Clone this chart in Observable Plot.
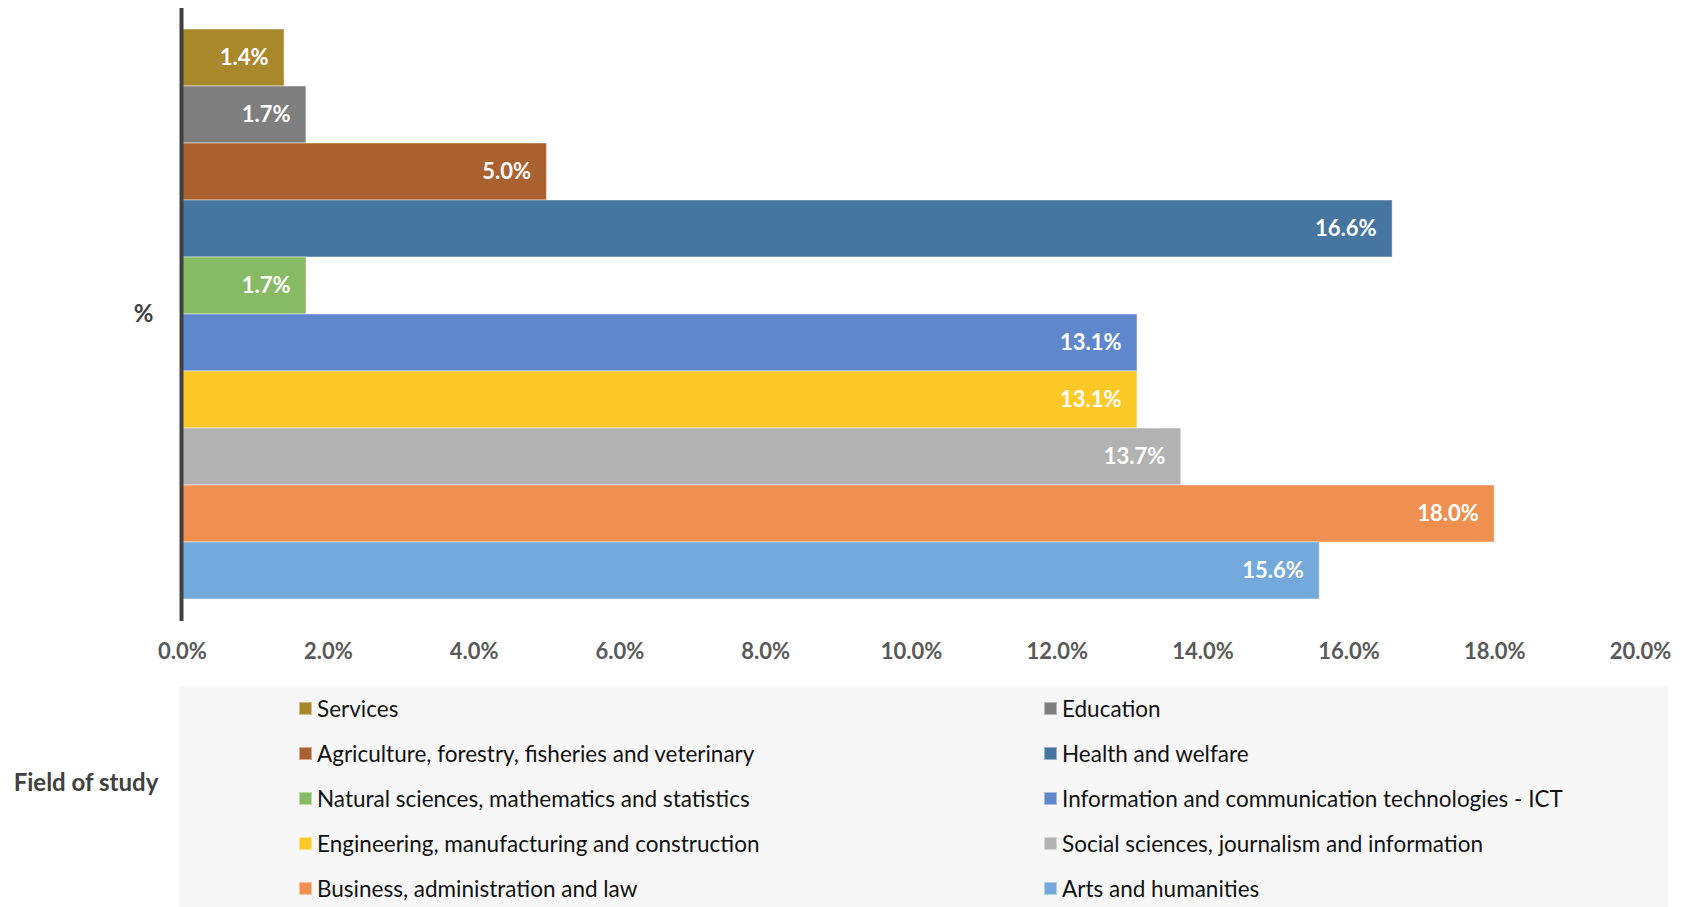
<!DOCTYPE html>
<html>
<head>
<meta charset="utf-8">
<script src="https://cdn.jsdelivr.net/npm/d3@7"></script>
<script src="https://cdn.jsdelivr.net/npm/@observablehq/plot@0.6"></script>
<style>
  html, body { margin: 0; padding: 0; background: #ffffff; }
  body { width: 1694px; height: 907px; overflow: hidden; font-family: Lato, "Open Sans", sans-serif; }
  #chart { position: relative; width: 1694px; height: 686px; }
  #legendWrap { position: relative; width: 1694px; height: 221px; }
  #fieldLabel { position: absolute; left: 0; width: 172px; top: 78px; height: 34px; display: flex; align-items: center; justify-content: center; font-weight: bold; font-size: 24px; color: #404040; }
  #legendBox { position: absolute; left: 179px; top: 0; width: 1489px; height: 221px; background: #f7f7f7; }
  .item { position: absolute; display: flex; align-items: center; height: 30px; font-size: 22.5px; color: #111111; white-space: nowrap; }
  .sw { width: 13px; height: 13px; margin-right: 5px; box-sizing: border-box; border: 1px solid rgba(255,255,255,0.45); }
</style>
</head>
<body>
<div id="chart"></div>
<div id="legendWrap">
  <div id="fieldLabel">Field of study</div>
  <div id="legendBox"></div>
</div>
<script>
const categories = [
  "Services",
  "Education",
  "Agriculture, forestry, fisheries and veterinary",
  "Health and welfare",
  "Natural sciences, mathematics and statistics",
  "Information and communication technologies - ICT",
  "Engineering, manufacturing and construction",
  "Social sciences, journalism and information",
  "Business, administration and law",
  "Arts and humanities"
];
const values = [1.4, 1.7, 5.0, 16.6, 1.7, 13.1, 13.1, 13.7, 18.0, 15.6];
const colors = ["#A9872B", "#7F7F7F", "#A9612F", "#4675A0", "#86BA64", "#5F87CC", "#FDC926", "#B2B2B2", "#EF8F50", "#73A9DB"];
const xTicks = [0, 2, 4, 6, 8, 10, 12, 14, 16, 18, 20];

const data = categories.map((c, i) => ({field: c, value: values[i]}));
const fmt = d => d.toFixed(1) + "%";

const plot = Plot.plot({
  width: 1694,
  height: 686,
  marginLeft: 182,
  marginRight: 54,
  marginTop: 26,
  marginBottom: 84,
  style: {fontFamily: "Lato, 'Open Sans', sans-serif", background: "transparent"},
  x: {domain: [0, 20]},
  y: {domain: categories, padding: 0, axis: null},
  color: {domain: categories, range: colors},
  marks: [
    Plot.barX(data, {x: "value", y: "field", fill: "field", stroke: "white", strokeOpacity: 0.4, strokeWidth: 1.2}),
    Plot.text(data, {x: "value", y: "field", text: d => fmt(d.value), textAnchor: "end", dx: -16, fill: "white", fontWeight: "bold", fontSize: 22}),
    Plot.ruleX([0], {stroke: "#404040", strokeWidth: 4, dx: -1, insetTop: -18, insetBottom: -19}),
    Plot.axisX({ticks: xTicks, tickFormat: fmt, tickSize: 0, tickPadding: 41, fontSize: 22, fontWeight: "bold", fill: "#595959", label: null}),
    Plot.text(["%"], {frameAnchor: "left", dx: -39, text: d => d, fontWeight: "bold", fontSize: 24, fill: "#404040", textAnchor: "middle"})
  ]
});
document.getElementById("chart").appendChild(plot);

// legend
const box = document.getElementById("legendBox");
const colLeft = [120, 865];
const rowTop = [7, 52, 97, 142, 187];
categories.forEach((c, i) => {
  const col = i % 2, row = Math.floor(i / 2);
  const it = document.createElement("div");
  it.className = "item";
  it.style.left = colLeft[col] + "px";
  it.style.top = rowTop[row] + "px";
  const sw = document.createElement("span");
  sw.className = "sw";
  sw.style.background = colors[i];
  const tx = document.createElement("span");
  tx.textContent = c;
  it.appendChild(sw);
  it.appendChild(tx);
  box.appendChild(it);
});
</script>
</body>
</html>
